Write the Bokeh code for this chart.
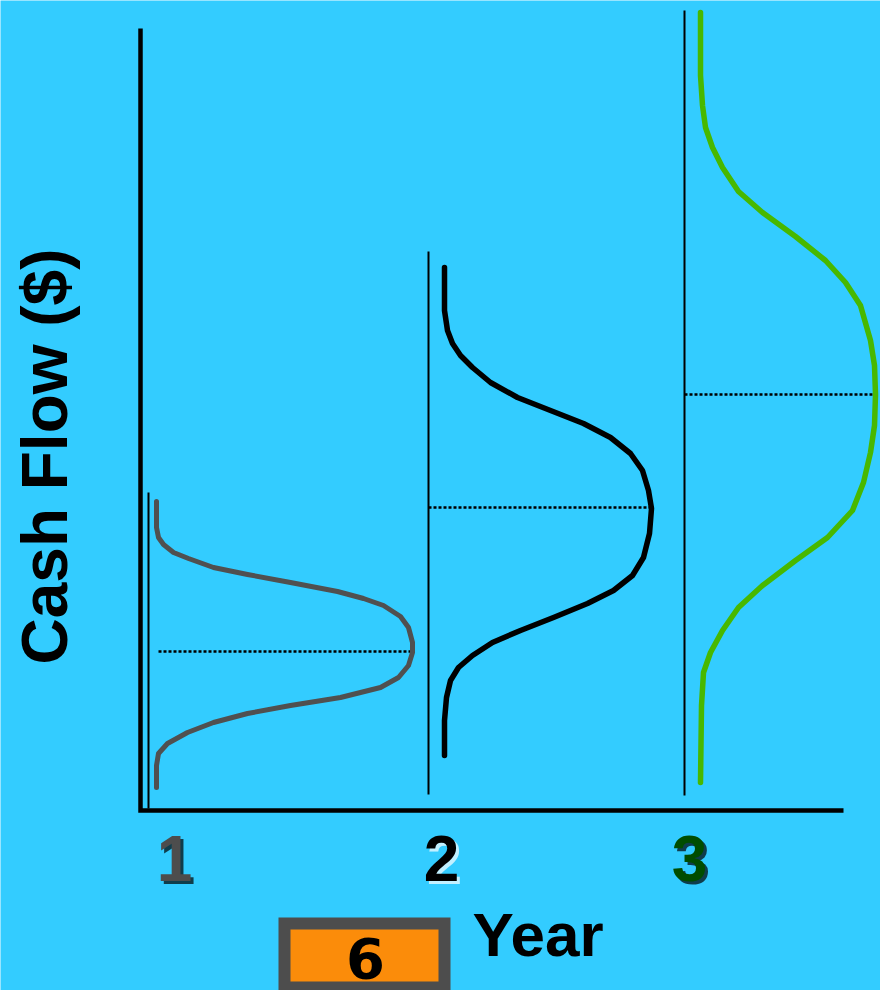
from math import pi
from bokeh.plotting import figure
from bokeh.models import Range1d
from bokeh.core.properties import value
from bokeh.embed import file_html
from bokeh.resources import INLINE

# ---- data (chart units: x to the right of the cash-flow axis, y above the year axis) ----
years = ["1", "2", "3"]
year_label_x = [34, 301, 549]

# distribution curves (density drawn sideways)
curve1_x = [16, 16, 18, 23, 33, 48, 73, 107, 150, 197, 223, 243, 260, 268, 272, 272, 268, 258, 240, 200, 150, 107, 73, 47, 27, 18, 16, 16]
curve1_y = [309, 283, 273, 266, 258, 252, 243, 236, 228, 219, 212, 205, 194, 183, 168, 158, 145, 133, 123, 113, 105, 97, 88, 78, 67, 57, 45, 23]

curve2_x = [304, 304, 307, 312, 320, 332, 350, 377, 410, 443, 470, 490, 502, 508, 511, 509, 503, 492, 473, 447, 413, 380, 352, 332, 318, 310, 306, 304, 304]
curve2_y = [543, 500, 480, 467, 455, 443, 428, 413, 400, 387, 373, 357, 340, 320, 302, 277, 253, 235, 220, 207, 193, 180, 168, 155, 143, 130, 113, 90, 55]

curve3_x = [560, 560, 562, 565, 572, 582, 598, 622, 655, 685, 705, 720, 730, 734, 735, 734, 730, 723, 712, 687, 655, 622, 598, 582, 570, 563, 561, 560]
curve3_y = [798, 735, 705, 683, 663, 643, 619, 598, 574, 550, 528, 505, 470, 445, 416, 385, 358, 328, 300, 273, 250, 225, 203, 180, 158, 138, 105, 28]

# baseline of each distribution (x, top, bottom)
base_x = [8, 288, 544]
base_top = [318, 559, 800]
base_bottom = [2, 16, 15]

# expected value (mean) of each distribution: level and extent
mean_y = [159, 303, 416]
mean_x0 = [18, 288, 544]
mean_x1 = [271, 510, 737]

# main axes
axis_x = [0, 0, 703]
axis_y = [782, 0, 0]

# texts
y_title = "Cash Flow ($)"
x_title = "Year"
box_label = "6"

BG = "#33CCFF"
FONT = "Liberation Sans"

W, H = 880, 990
x0, y1 = -140, 810
p = figure(width=W, height=H, output_backend="svg", toolbar_location=None,
           x_range=Range1d(x0, x0 + W), y_range=Range1d(y1 - H, y1),
           min_border=0, background_fill_color=BG, border_fill_color=BG)
p.axis.visible = False
p.grid.visible = False
p.outline_line_color = None

# baselines
p.segment(x0=base_x, y0=base_bottom, x1=base_x, y1=base_top, line_color="black", line_width=2)
# means
p.segment(x0=mean_x0, y0=mean_y, x1=mean_x1, y1=mean_y, line_color="black", line_width=2.5, line_dash="3 2")

# curves
p.line(curve1_x, curve1_y, line_color="#505050", line_width=5, line_join="round", line_cap="round")
p.line(curve2_x, curve2_y, line_color="black", line_width=5.5, line_join="round", line_cap="round")
p.line(curve3_x, curve3_y, line_color="#48B800", line_width=5.5, line_join="round", line_cap="round")

# main axes
p.line(axis_x, axis_y, line_color="black", line_width=4.5, line_join="miter")

# year labels with shadows
label_cols = ["#4D4D4D", "#000000", "#004D00"]
shadow_cols = ["#000000", "#FFFFFF", "#000000"]
ly = [-48] * 3
p.text(x=year_label_x, y=ly, text=years, text_color=shadow_cols, x_offset=3, y_offset=3,
       text_font=value(FONT), text_font_style="bold", text_font_size="64px",
       text_align="center", text_baseline="middle", text_alpha=0.7)
p.text(x=year_label_x, y=ly, text=years, text_color=label_cols,
       text_font=value(FONT), text_font_style="bold", text_font_size="64px",
       text_align="center", text_baseline="middle")

# axis titles
p.text(x=[-96], y=[354], text=[y_title], angle=pi / 2, text_color="black",
       text_font=value(FONT), text_font_style="bold", text_font_size="64px",
       text_align="center", text_baseline="middle")
p.text(x=[332], y=[-124], text=[x_title], text_color="black",
       text_font=value(FONT), text_font_style="bold", text_font_size="62px",
       text_align="left", text_baseline="middle")

# slide number box
p.quad(left=[144], right=[304], top=[-113], bottom=[-177], fill_color="#FB8C0A",
       line_color="#4D4D4D", line_width=12, line_join="miter")
p.text(x=[225], y=[-147], text=[box_label], text_color="black",
       text_font=value("DejaVu Sans"), text_font_style="bold", text_font_size="56px",
       text_align="center", text_baseline="middle")

open("out.html", "w").write(file_html(p, INLINE))
